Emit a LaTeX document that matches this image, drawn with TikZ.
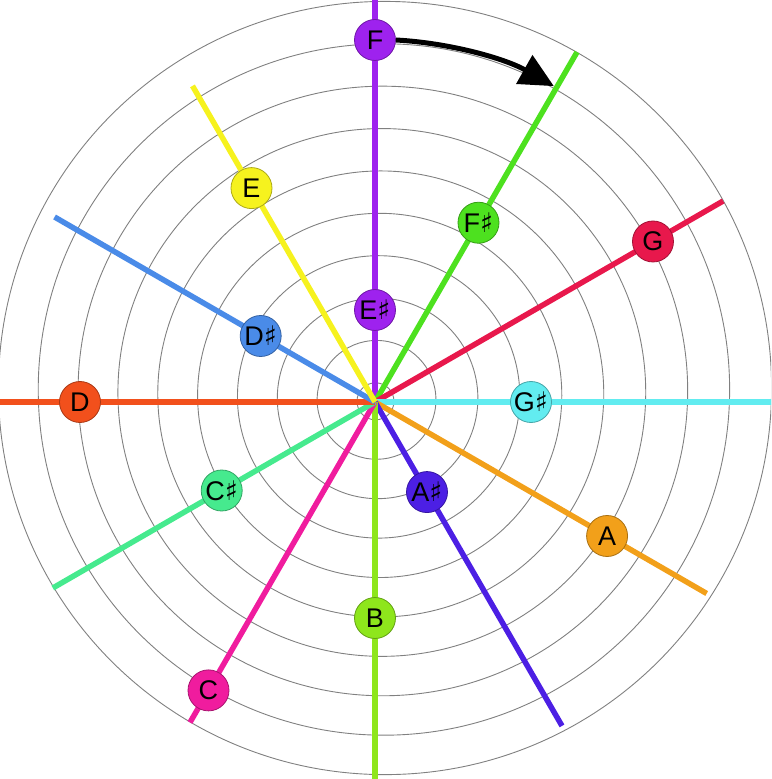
\documentclass[tikz,border=0pt]{standalone}
\usepackage{fontspec}
\setmainfont{Liberation Sans}
\newfontfamily\symbolfont{DejaVu Sans}
\usepackage{tikz}
\usetikzlibrary{arrows.meta}
\newcommand{\shrp}{{\symbolfont\fontsize{27}{27}\selectfont ♯}}

\definecolor{cF}{HTML}{9E22EE}
\definecolor{cFs}{HTML}{4DE11F}
\definecolor{cG}{HTML}{E8184C}
\definecolor{cGs}{HTML}{62ECF0}
\definecolor{cA}{HTML}{F2A01A}
\definecolor{cAs}{HTML}{4C1FE4}
\definecolor{cB}{HTML}{8EE61C}
\definecolor{cC}{HTML}{F01C9E}
\definecolor{cCs}{HTML}{46EA8E}
\definecolor{cD}{HTML}{F2501C}
\definecolor{cDs}{HTML}{4A8BE8}
\definecolor{cE}{HTML}{F6F21E}

\begin{document}
\begin{tikzpicture}[x=1pt, y=1pt,
        ring/.style={draw=black!50, line width=0.9pt},
        spoke/.style={line width=5.5pt},
        note/.style={circle, minimum size=41pt, inner sep=0pt, line width=0.8pt,
            fill=#1, draw=#1!70!black, text=black,
            font=\fontsize{27}{27}\selectfont}]
    \useasboundingbox (-375,-377) rectangle (396,402);
    \clip (-375,-377) rectangle (396,402);
    \coordinate (O) at (0,0);

    % rings, drifting a little up and right as they grow
    \foreach \k in {0,...,9} {
        \pgfmathsetmacro\rad{18.5+40.9*\k}
        \draw[ring] ({10*\rad/387},{14*\rad/387}) circle (\rad);
    }

    % spokes
    \foreach \n/\a/\l in {F/90/405, Fs/60/404, G/30/402, Gs/0/400, A/-30/383, As/-60/374,
                          B/-90/380, C/-120/370, Cs/-150/372, D/180/380, Ds/150/370, E/120/365} {
        \coordinate (end\n) at (\a:\l);
        \draw[spoke, c\n] (O) -- (end\n);
    }

    % notes
    \node[note=cF] (F) at (90:362) {F};
    \node[note=cFs] (Fs) at (60:207) {F\shrp};
    \node[note=cG] (G) at (30:321) {G};
    \node[note=cGs] (Gs) at (0:156) {G\shrp};
    \node[note=cA] (A) at (-30:268) {A};
    \node[note=cAs] (As) at (-60:104) {A\shrp};
    \node[note=cB] (B) at (-90:216) {B};
    \node[note=cC] (C) at (-120:333) {C};
    \node[note=cCs] (Cs) at (-150:177) {C\shrp};
    \node[note=cD] (D) at (180:295) {D};
    \node[note=cDs] (Ds) at (150:132) {D\shrp};
    \node[note=cE] (E) at (120:247) {E};
    \node[note=cF] (Es) at (90:92) {E\shrp};

    \draw[line width=5pt, -{Triangle[length=34pt, width=32pt]}]
        (F.east) arc[start angle=86.84, end angle=60.6, radius=362.55];
\end{tikzpicture}
\end{document}
